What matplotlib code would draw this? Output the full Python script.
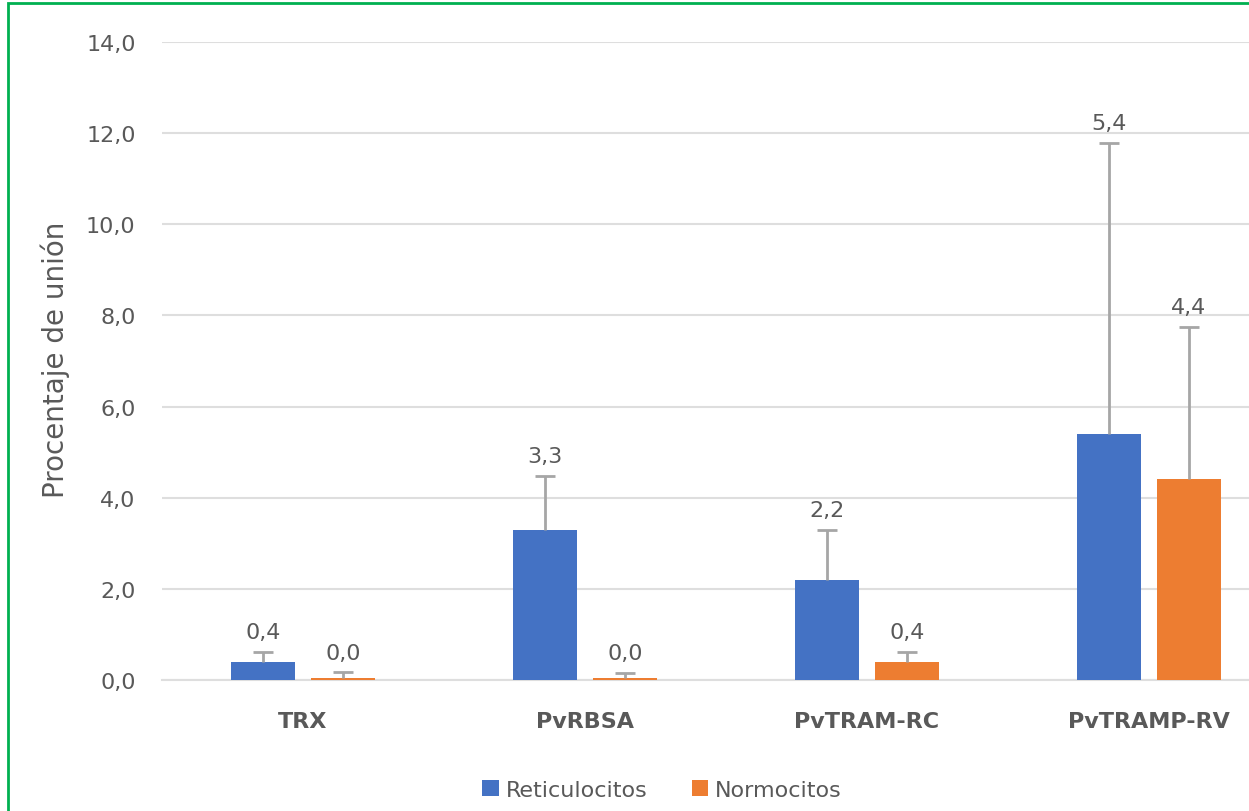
import matplotlib
matplotlib.use("Agg")
import matplotlib.pyplot as plt
from matplotlib.patches import Rectangle
import numpy as np

# Binding data per antigen
categories = ["TRX", "PvRBSA", "PvTRAM-RC", "PvTRAMP-RV"]
reticulocitos = [0.4, 3.3, 2.2, 5.4]
normocitos = [0.04, 0.04, 0.4, 4.4]
reticulocitos_sd = [0.21, 1.18, 1.09, 6.38]
normocitos_sd = [0.13, 0.11, 0.21, 3.35]
series_names = ["Reticulocitos", "Normocitos"]
y_ticks = [0, 2, 4, 6, 8, 10, 12, 14]

BLUE = "#4472C4"
ORANGE = "#ED7D31"
TEXT = "#595959"
GRID = "#DEDEDE"
ERR = "#A6A6A6"

plt.rcParams["font.family"] = ["DejaVu Sans"]

W, H = 1249, 812
fig = plt.figure(figsize=(W / 100, H / 100), dpi=100)

# plot area (extends past the right edge of the canvas)
left_px, right_px, top_px, bottom_px = 162, 1290, 43, 681
ax = fig.add_axes([left_px / W, 1 - bottom_px / H,
                   (right_px - left_px) / W, (bottom_px - top_px) / H])

x = np.arange(len(categories))
width = 0.227
offset = 0.142

ax.bar(x - offset, reticulocitos, width, color=BLUE, label=series_names[0], zorder=3)
ax.bar(x + offset, normocitos, width, color=ORANGE, label=series_names[1], zorder=3)

# upper error whiskers with a cap at the top only
for xs, vals, sds in ((x - offset, reticulocitos, reticulocitos_sd),
                      (x + offset, normocitos, normocitos_sd)):
    vals = np.asarray(vals)
    tops = vals + np.asarray(sds)
    ax.vlines(xs, vals, tops, color=ERR, linewidth=2, zorder=4)
    ax.plot(xs, tops, linestyle="none", marker="_", markersize=14,
            markeredgewidth=2, color=ERR, zorder=4)
    for xi, v, t in zip(xs, vals, tops):
        ax.annotate(f"{v:.1f}".replace(".", ","), (xi, t),
                    xytext=(0, 7), textcoords="offset points",
                    ha="center", va="bottom", fontsize=16, color=TEXT)

ax.set_xlim(-0.5, len(categories) - 0.5)
ax.set_ylim(0, 14)
ax.set_yticks(y_ticks)
ax.set_yticklabels([f"{t:.1f}".replace(".", ",") for t in y_ticks])
ax.set_xticks(x)
ax.set_xticklabels(categories, fontweight="bold")

ax.tick_params(axis="y", length=0, pad=19, labelsize=16, labelcolor=TEXT)
ax.tick_params(axis="x", length=0, pad=22, labelsize=16, labelcolor=TEXT)
ax.grid(axis="y", color=GRID, linewidth=1.5, zorder=0)
for side in ("top", "right", "left"):
    ax.spines[side].set_visible(False)
ax.spines["bottom"].set_color(GRID)
ax.spines["bottom"].set_linewidth(1.5)

fig.text(55 / W, 1 - 360 / H, "Procentaje de unión", rotation=90,
         ha="center", va="center", fontsize=20, color=TEXT)

leg = fig.legend(loc="center", bbox_to_anchor=(662 / W, 1 - 791 / H), ncol=2,
                 frameon=False, fontsize=16, labelcolor=TEXT,
                 handlelength=0.75, handleheight=0.75, handletextpad=0.3,
                 columnspacing=2.0)

# green frame around the chart
fig.add_artist(Rectangle((8 / W, -0.1), 1.2, 1 - 4 / H + 0.1,
                         transform=fig.transFigure, fill=False,
                         edgecolor="#00B050", linewidth=2))

fig.savefig("out.png", dpi=100, facecolor="white")
